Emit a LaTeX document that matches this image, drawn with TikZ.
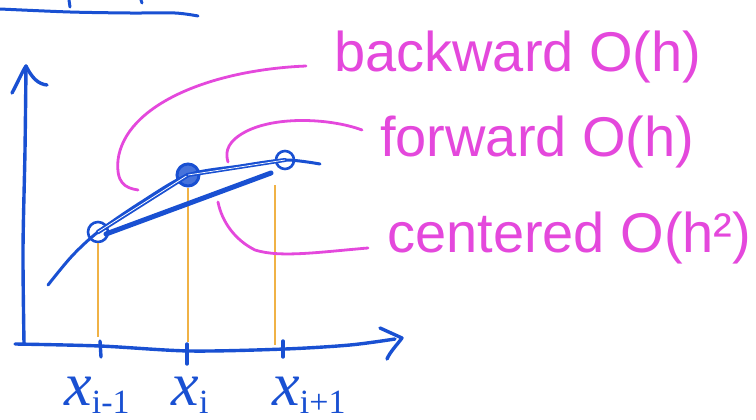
\documentclass[tikz,border=0pt]{standalone}
\usepackage{fontspec}
\setmainfont{Liberation Sans}
\newfontfamily\xfont{Liberation Serif}
\usetikzlibrary{calc}
\definecolor{penblue}{RGB}{25,80,210}
\definecolor{penmag}{RGB}{228,72,220}
\definecolor{penorange}{RGB}{240,178,70}
\newcommand{\xsub}[1]{{\xfont\itshape x}\raisebox{-8pt}{\fontsize{34}{36}\selectfont\xfont #1}}
\begin{document}
\begin{tikzpicture}[x=1pt,y=-1pt,
  bluepen/.style={draw=penblue,line width=3.4pt,line cap=round,line join=round},
  magpen/.style={draw=penmag,line width=2.8pt,line cap=round},
  guide/.style={draw=penorange,line width=1.3pt},
  dotnode/.style={circle,draw=penblue,line width=2.6pt,inner sep=0pt},
  lab/.style={text=penmag,font=\fontsize{56}{60}\selectfont,inner sep=0pt,anchor=base west},
  xlab/.style={text=penblue,font=\fontsize{62}{66}\selectfont,inner sep=0pt,anchor=base}]
\useasboundingbox (0,0) rectangle (756,420);

% top stroke (cut-off figure above)
\coordinate (ta) at (0,9);
\coordinate (tb) at (198,16);
\draw[bluepen,line width=3pt] plot[smooth] coordinates {(ta) (70,12) (130,13) (175,13) (tb)};
\draw[bluepen,line width=3pt] (69,0) -- (70,7);
\draw[bluepen,line width=3pt] (141,0) -- (142,3);

% axes
\coordinate (ytip) at (26,66);
\coordinate (xtip) at (402,338);
\draw[bluepen] plot[smooth] coordinates {(24,343) (23,250) (25,150) (ytip)};
\draw[bluepen] (12,93) .. controls (18,82) and (22,72) .. (ytip) .. controls (32,78) and (38,84) .. (47,85);
\draw[bluepen] plot[smooth] coordinates {(15,344) (100,346) (190,351) (285,349) (350,345) (395,339)};
\draw[bluepen] (380,328) -- (xtip) .. controls (396,346) and (390,352) .. (387,359);

% ticks
\coordinate (t0) at (100,341);
\coordinate (t1) at (187,344);
\coordinate (t2) at (283,341);
\draw[bluepen] (t0) -- (101,357);
\draw[bluepen] (t1) -- (187,364);
\draw[bluepen] (t2) -- (283,357);

% points
\node[dotnode,minimum size=20pt] (p0) at (98,232) {};
\node[dotnode,minimum size=22pt,fill=penblue!80,line width=3pt] (p1) at (188,175) {};
\node[dotnode,minimum size=18pt] (p2) at (285,160) {};

% orange guides
\draw[guide] (p0.south) -- (98,337);
\draw[guide] (p1.south) -- (188,342);
\draw[guide] (275,185) -- (275,345);

% function curve
\draw[bluepen,line width=3pt] plot[smooth] coordinates {(48,285) (72,256) (p0.center) (140,203) (p1.center) (240,166) (p2.center) (320,164)};

% secants
\draw[bluepen,line width=4.5pt] (p0.center) -- (p1.center);
\draw[white,line width=0.8pt] (p0.center) -- (p1.center);
\draw[bluepen,line width=4pt] (p1.center) -- (p2.center);
\draw[white,line width=0.7pt] (p1.center) -- (p2.center);
\coordinate (c0) at (106,234);
\coordinate (c2) at (271,173);
\draw[bluepen,line width=5pt] (c0) -- (c2);

% labels
\node[lab] (bw) at (334,72) {backward O(h)};
\node[lab] (fw) at (380,157) {forward O(h)};
\node[lab] (ce) at (387,252) {centered O(h²)};

% leaders
\coordinate (bwend) at (138,190);
\coordinate (fwend) at (228,162);
\coordinate (ceend) at (218,202);
\draw[magpen] ($(bw.base west)+(-28,-6)$) .. controls (210,70) and (125,105) .. (118,160) .. controls (116,183) and (125,188) .. (bwend);
\draw[magpen] ($(fw.base west)+(-18,-27)$) .. controls (330,118) and (270,115) .. (240,135) .. controls (225,145) and (226,155) .. (fwend);
\draw[magpen] ($(ce.base west)+(-19,-4)$) .. controls (320,252) and (280,258) .. (255,250) .. controls (235,240) and (222,222) .. (ceend);

% axis labels
\node[xlab] (l0) at (97,405) {\xsub{i-1}};
\node[xlab] (l1) at (190,405) {\xsub{i}};
\node[xlab] (l2) at (309,405) {\xsub{i+1}};
\end{tikzpicture}
\end{document}
